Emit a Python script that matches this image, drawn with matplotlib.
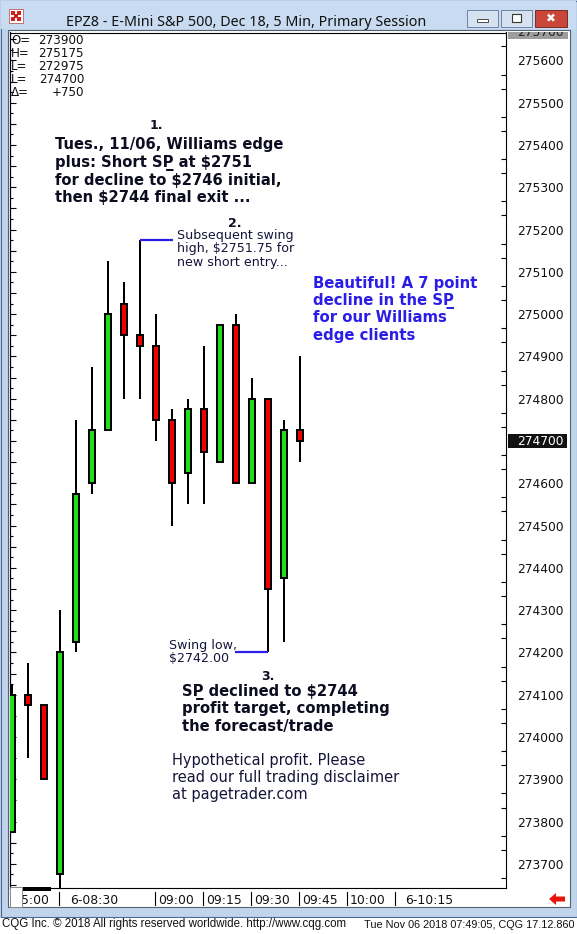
import matplotlib
matplotlib.use("Agg")
import numpy as np
from matplotlib import pyplot as plt
from matplotlib.patches import Rectangle, Polygon
from matplotlib.ticker import FixedLocator, MultipleLocator
from matplotlib.transforms import Bbox, TransformedBbox

# 5 min bars, EPZ8 (prices as CQG prints them, 2751.75 -> 275175)
opens = [273775, 274100, 274075, 273675, 274225, 274600, 274725, 275025, 274950, 274925,
         274750, 274625, 274775, 274650, 274975, 274600, 274800, 274375, 274725]
highs = [274125, 274175, 274075, 274300, 274750, 274875, 275125, 275075, 275175, 275000,
         274775, 274800, 274925, 274975, 275000, 274850, 274800, 274750, 274900]
lows = [273775, 273950, 273900, 273625, 274200, 274575, 274725, 274800, 274800, 274700,
        274500, 274550, 274550, 274650, 274600, 274600, 274200, 274225, 274650]
closes = [274100, 274075, 273900, 274200, 274575, 274725, 275000, 274950, 274925, 274750,
          274600, 274775, 274675, 274975, 274600, 274800, 274350, 274725, 274700]

price_ticks = list(range(273700, 275700, 100))
time_labels = ["5:00", "6-08:30", "09:00", "09:15", "09:30", "09:45", "10:00", "6-10:15"]
time_label_pos = [0.58, 3.65, 9.15, 12.15, 15.15, 18.15, 21.15, 24.6]
time_seps = [3, 9, 12, 15, 18, 21, 24]

info_keys = ["O=", "H=", "L=", "L=", "\u0394="]
info_vals = ["273900", "275175", "272975", "274700", "+750"]

title = "EPZ8 - E-Mini S&P 500, Dec 18, 5 Min, Primary Session"
note1 = ["Tues., 11/06, Williams edge", "plus: Short SP\u0332 at $2751",
         "for decline to $2746 initial,", "then $2744 final exit ..."]
note2 = ["Subsequent swing", "high, $2751.75 for", "new short entry..."]
note_blue = ["Beautiful! A 7 point", "decline in the SP\u0332", "for our Williams", "edge clients"]
note_low = ["Swing low,", "$2742.00"]
note3 = ["SP\u0332 declined to $2744", "profit target, completing", "the forecast/trade"]
disclaimer = ["Hypothetical profit. Please", "read our full trading disclaimer", "at pagetrader.com"]
footer_left = "CQG Inc. \u00a9 2018 All rights reserved worldwide. http://www.cqg.com"
footer_right = "Tue Nov 06 2018 07:49:05, CQG 17.12.860"

GREEN = "#1fe01a"
RED = "#f20000"
BLUE = "#2b1de8"
INK = "#0d0d22"
NAVY = "#15153a"
FRAME = "#c0d5ec"

W, H = 577, 934
fig = plt.figure(figsize=(W / 100, H / 100), dpi=100)
fig.patch.set_facecolor(FRAME)


def fx(x):
    return x / W


def fy(y):
    return 1 - y / H


def box(x0, y0, x1, y1, z=-5, **kw):
    r = Rectangle((fx(x0), fy(y1)), fx(x1) - fx(x0), fy(y0) - fy(y1),
                  transform=fig.transFigure, zorder=z, **kw)
    fig.add_artist(r)
    return r


def line_at(x, y, s, **kw):
    return fig.text(fx(x), fy(y), s, va="baseline", **kw)


# window chrome
box(0.5, 0.5, 576.5, 917, fc=FRAME, ec="#4a6a94", lw=0.8)
box(1, 1, 576, 29, fc="#c8dbf0", lw=0)
box(8, 30, 570, 907, fc="white", ec="#55606e", lw=0.8)
box(0, 917.5, 577, 934, fc="white", lw=0)

# icon
box(9, 9, 23, 23, z=-4, fc="white", ec="#b04040", lw=0.5)
for cx, cy in [(11, 11), (17, 11), (14, 14), (11, 17), (17, 17)]:
    box(cx, cy, cx + 4, cy + 4, z=-3, fc="#d02020", lw=0)

fig.text(fx(246), fy(25.5), title, ha="center", va="baseline", fontsize=10.3,
         family="Noto Sans", color="#111111")

box(467, 10, 498, 27, z=-4, fc="#d6e2ef", ec="#6b84a3", lw=0.7)
box(477, 19, 488, 22, z=-3, fc="white", ec="#333333", lw=0.6)
box(501, 10, 532, 27, z=-4, fc="#d6e2ef", ec="#6b84a3", lw=0.7)
box(512, 14, 521, 22, z=-3, fc="white", ec="#333333", lw=0.8)
box(535, 10, 567, 27, z=-4, fc="#c9463b", ec="#7b2a23", lw=0.7)
fig.text(fx(551), fy(18.5), "\u2716", ha="center", va="center", fontsize=8.5,
         color="white", family="DejaVu Sans")

# price chart
ax = fig.add_axes([fx(10), fy(888), fx(506) - fx(10), fy(32.5) - fy(888)])
ax.set_xlim(-0.11, 30.9)
ax.set_ylim(273643, 275666)
ax.set_facecolor("white")

for i, (o, h, l, c) in enumerate(zip(opens, highs, lows, closes)):
    col = GREEN if c >= o else RED
    ax.plot([i, i], [l, h], color="black", lw=1.45, solid_capstyle="butt", zorder=2)
    ax.add_patch(Rectangle((i - 0.19, min(o, c)), 0.38, abs(c - o), fc=col,
                           ec="black", lw=1.4, zorder=3))

# swing high / swing low markers
ax.plot([8, 10.1], [highs[8], highs[8]], color=BLUE, lw=1.6, solid_capstyle="butt", zorder=4)
ax.plot([13.95, 16], [lows[16], lows[16]], color=BLUE, lw=1.6, solid_capstyle="butt", zorder=4)

ax.set_xticks([])
ax.yaxis.tick_right()
ax.set_yticks(price_ticks)
ax.set_yticklabels([str(p) for p in price_ticks])
ax.tick_params(axis="y", which="major", length=0, pad=7.9, labelsize=8.8,
               labelcolor="#111111")
ax.yaxis.set_minor_locator(FixedLocator(np.arange(273650 + 50 / 3, 275666, 100 / 3)))
ax.tick_params(axis="y", which="minor", right=True, direction="in", length=3.5, width=0.8)
for s in ax.spines.values():
    s.set_linewidth(0.8)

sec = ax.secondary_yaxis("left")
sec.set_yticks(np.arange(273650, 275700, 50))
sec.yaxis.set_minor_locator(MultipleLocator(25))
sec.tick_params(which="major", direction="in", length=4.5, width=0.8, labelleft=False)
sec.tick_params(which="minor", direction="in", length=2.5, width=0.8)
sec.spines["left"].set_linewidth(0.8)

# last price marker
ax.add_patch(Rectangle((1.004, closes[-1] - 16), 0.119, 32, transform=ax.get_yaxis_transform(),
                       fc="#111111", ec="none", clip_on=False, zorder=6))
ax.text(1.022, closes[-1], str(closes[-1]), transform=ax.get_yaxis_transform(),
        ha="left", va="center", fontsize=8.8, color="white", zorder=7, clip_on=False)

# top partial price box
box(508, 32, 568, 39, z=5, fc="#9c9c9c", lw=0)
t = fig.text(fx(517), fy(35.5), str(price_ticks[-1] + 100), ha="left", va="baseline",
             fontsize=8.8, color="#222222", zorder=6)
t.set_clip_box(TransformedBbox(Bbox([[fx(508), fy(39)], [fx(568), fy(32)]]), fig.transFigure))
t.set_clip_on(True)

# time strip
axt = fig.add_axes([fx(10), fy(907), fx(506) - fx(10), fy(889) - fy(907)])
axt.set_xlim(ax.get_xlim())
axt.set_ylim(0, 1)
axt.axis("off")
for s in time_seps:
    axt.plot([s - 0.04, s - 0.04], [0.1, 0.85], color="black", lw=0.8)
for pos, lab in zip(time_label_pos, time_labels):
    axt.text(pos, 0.17, lab, ha="left", va="baseline", fontsize=8.9, color="#111111")
box(51, 889.6, 499, 890.4, z=5, fc="black", lw=0)
box(23, 887, 51, 890.5, z=5, fc="black", lw=0)
box(10, 887, 22, 907, z=6, fc="white", ec="#8a8a8a", lw=0.7)

arrow = Polygon([(fx(549), fy(899)), (fx(556), fy(893)), (fx(556), fy(896.5)),
                 (fx(565), fy(896.5)), (fx(565), fy(901.5)), (fx(556), fy(901.5)),
                 (fx(556), fy(905))], closed=True, transform=fig.transFigure,
                fc="#e8140c", ec="none", zorder=6)
fig.add_artist(arrow)

# OHLC readout
for k, (key, val) in enumerate(zip(info_keys, info_vals)):
    yb = 44 + k * 13
    line_at(11, yb, key, fontsize=8.6, color="#111111")
    line_at(84, yb, val, fontsize=8.6, color="#111111", ha="right")

# annotations
line_at(156, 129, "1.", fontsize=9, weight="bold", color=INK, ha="center")
for k, s in enumerate(note1):
    line_at(55, 149.5 + k * 17.5, s, fontsize=10.6, weight="bold", color=INK)

line_at(235, 227, "2.", fontsize=9, weight="bold", color=INK, ha="center")
for k, s in enumerate(note2):
    line_at(177, 239 + k * 13.5, s, fontsize=9.1, color=NAVY)

for k, s in enumerate(note_blue):
    line_at(313, 288 + k * 17.2, s, fontsize=10.7, weight="bold", color=BLUE)

for k, s in enumerate(note_low):
    line_at(169, 648.5 + k * 13.4, s, fontsize=9.1, color=NAVY)

line_at(267.5, 679.5, "3.", fontsize=9, weight="bold", color=INK, ha="center")
for k, s in enumerate(note3):
    line_at(181.5, 696 + k * 17.4, s, fontsize=10.6, weight="bold", color=INK)

for k, s in enumerate(disclaimer):
    line_at(172.5, 764.5 + k * 17.5, s, fontsize=10.5, color=NAVY)

# status line
line_at(2, 927.5, footer_left, fontsize=8.3, family="Liberation Sans", color="#111111")
line_at(575, 927.5, footer_right, fontsize=7.8, family="Liberation Sans", color="#111111",
        ha="right")

fig.savefig("out.png", dpi=100, facecolor=fig.get_facecolor())
